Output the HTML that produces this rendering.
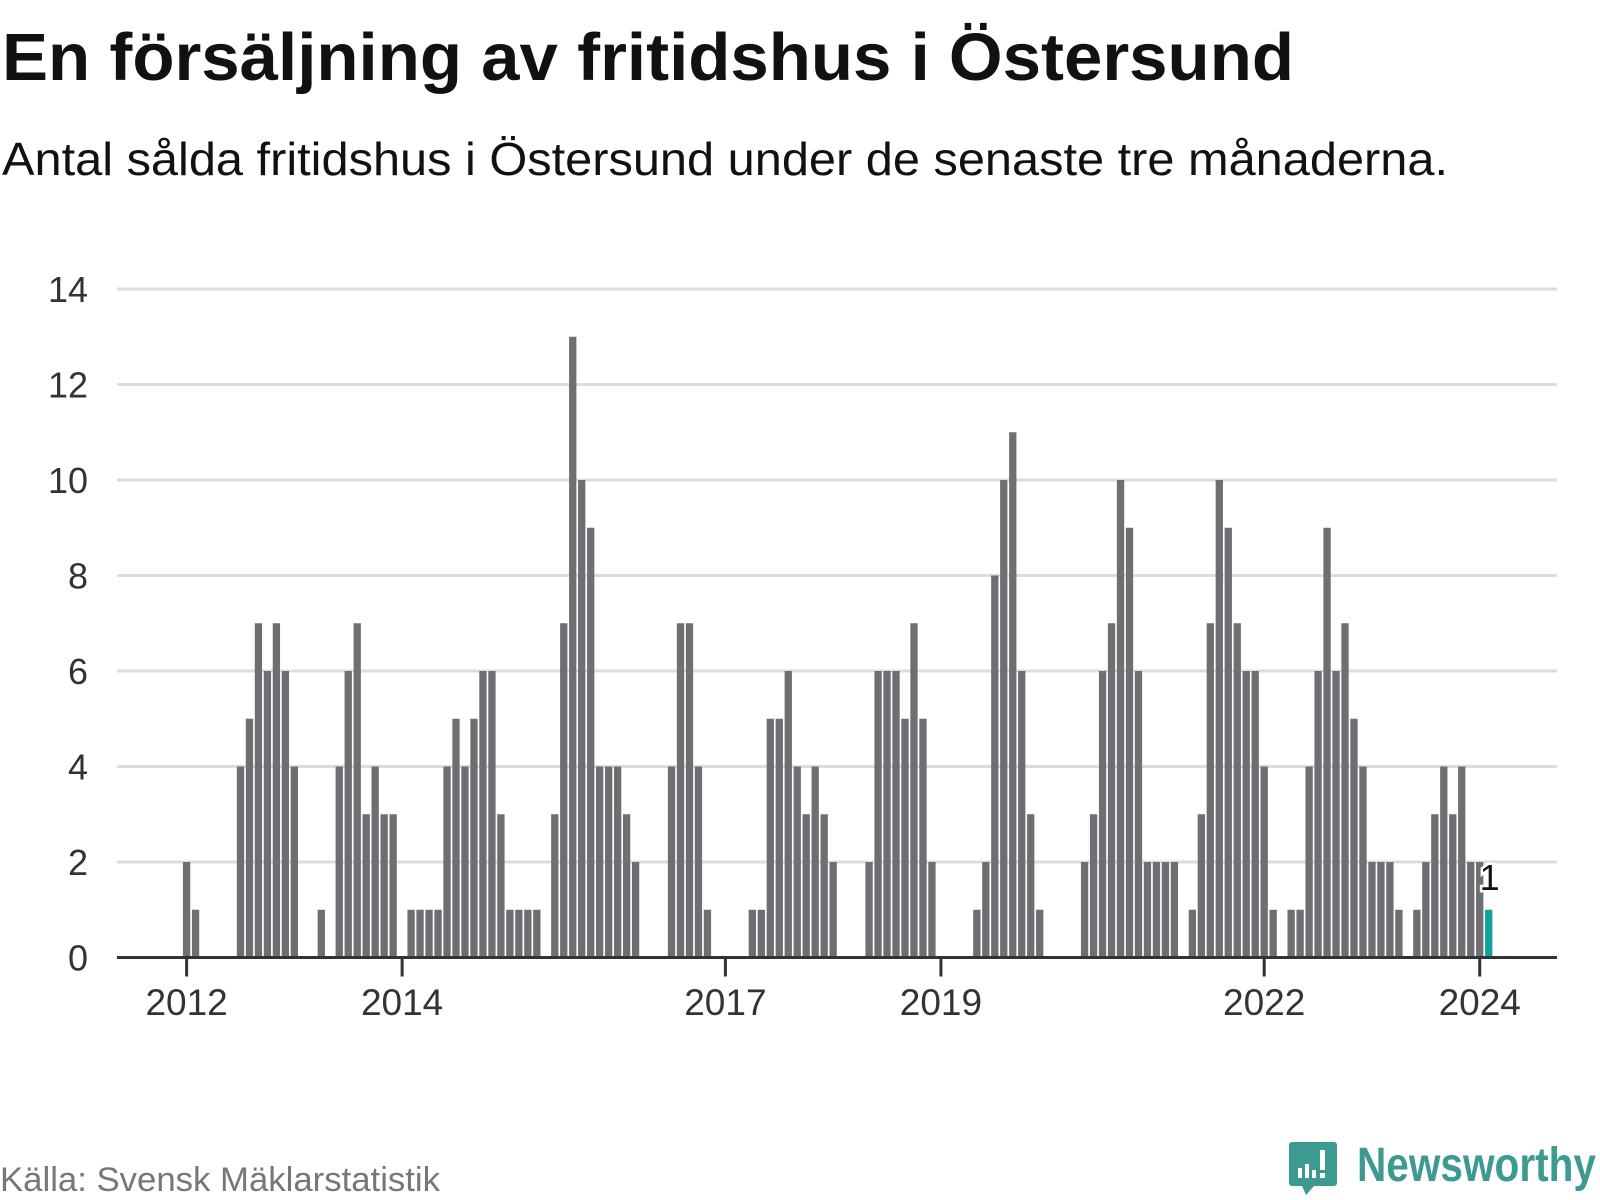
<!DOCTYPE html>
<html><head><meta charset="utf-8"><style>
html,body{margin:0;padding:0;background:#fff;}
svg{display:block;font-family:"Liberation Sans",sans-serif;}
</style></head><body>
<svg id="chart" width="1600" height="1200" viewBox="0 0 1600 1200" xmlns="http://www.w3.org/2000/svg">
<text x="2" y="80" font-size="67" font-weight="bold" fill="#111" textLength="1292" lengthAdjust="spacingAndGlyphs">En försäljning av fritidshus i Östersund</text>
<text x="2" y="175" font-size="46" fill="#111" textLength="1446" lengthAdjust="spacingAndGlyphs">Antal sålda fritidshus i Östersund under de senaste tre månaderna.</text>
<g id="grid"></g>
<g id="yticks"></g>
<g id="bars"></g>
<g id="xaxis"></g>
<g id="labels"></g>
<text x="0" y="1191" font-size="34" fill="#777" textLength="440" lengthAdjust="spacingAndGlyphs">Källa: Svensk Mäklarstatistik</text>
<g>
  <path d="M1292 1142 h42 a3 3 0 0 1 3 3 v38 a3 3 0 0 1 -3 3 h-20 l-8 9 l-4 -9 h-10 a3 3 0 0 1 -3 -3 v-38 a3 3 0 0 1 3 -3z" fill="#3d9a90"/>
  <rect x="1298" y="1168" width="4" height="10" fill="#fff"/>
  <rect x="1305" y="1164" width="4" height="14" fill="#fff"/>
  <rect x="1312" y="1170" width="4" height="8" fill="#fff"/>
  <rect x="1320" y="1150" width="5" height="20" fill="#fff"/>
  <rect x="1320" y="1173" width="5" height="5" fill="#fff"/>
  <text x="1357" y="1181" font-size="48" font-weight="bold" fill="#3d9a90" textLength="239" lengthAdjust="spacingAndGlyphs">Newsworthy</text>
</g>
</svg>
<script>
const yTicks = [0, 2, 4, 6, 8, 10, 12, 14];
const xTickLabels = ["2012", "2014", "2017", "2019", "2022", "2024"];
const xTickMonths = [0, 24, 60, 84, 120, 144];
const startYear = 2012;
const values = [
 2,1,0,0,0,0,4,5,7,6,7,6,
 4,0,0,1,0,4,6,7,3,4,3,3,
 0,1,1,1,1,4,5,4,5,6,6,3,
 1,1,1,1,0,3,7,13,10,9,4,4,
 4,3,2,0,0,0,4,7,7,4,1,0,
 0,0,0,1,1,5,5,6,4,3,4,3,
 2,0,0,0,2,6,6,6,5,7,5,2,
 0,0,0,0,1,2,8,10,11,6,3,1,
 0,0,0,0,2,3,6,7,10,9,6,2,
 2,2,2,0,1,3,7,10,9,7,6,6,
 4,1,0,1,1,4,6,9,6,7,5,4,
 2,2,2,1,0,1,2,3,4,3,4,2,
 2,1
];
const highlightLabel = "1";

const NS = "http://www.w3.org/2000/svg";
const X0 = 186.6, STEP = 8.98, LEFT = 117, RIGHT = 1557;
const Y0 = 957.5, PER = 47.75;
function xPos(i){ return X0 + i*STEP; }
function yPos(v){ return Y0 - v*PER; }
function mk(tag, attrs, parent){
  const e = document.createElementNS(NS, tag);
  for (const k in attrs) e.setAttribute(k, attrs[k]);
  parent.appendChild(e);
  return e;
}
const grid = document.getElementById('grid');
const yt = document.getElementById('yticks');
yTicks.forEach(t => {
  if (t > 0) {
    const l = mk('line', {x1:LEFT, x2:RIGHT, y1:yPos(t), y2:yPos(t), stroke:'#dcdcdc', 'stroke-width':3}, grid);
    
    
  }
  const tx = mk('text', {x:88, y:yPos(t)+13, 'font-size':36, fill:'#333', 'text-anchor':'end'}, yt);
  
  
  tx.textContent = t;
});
const bars = document.getElementById('bars');
const last = values.length - 1;
values.forEach((v, i) => {
  if (v <= 0) return;
  const r = mk('rect', {x:xPos(i)-3.65, y:yPos(v), width:7.3, height:v*PER, fill: i===last ? '#0fa39a' : '#6e6e73'}, bars);
  
  
});
const xa = document.getElementById('xaxis');
const ax = mk('line', {x1:LEFT, x2:RIGHT, y1:Y0, y2:Y0, stroke:'#333', 'stroke-width':3}, xa);


xTickLabels.forEach((lab, k) => {
  const x = xPos(xTickMonths[k]);
  const tk = mk('line', {x1:x, x2:x, y1:Y0, y2:Y0+19, stroke:'#333', 'stroke-width':3}, xa);
  
  
  const tx = mk('text', {x:x, y:1015, 'font-size':37, fill:'#333', 'text-anchor':'middle'}, xa);
  
  
  tx.textContent = lab;
});
const lbls = document.getElementById('labels');
const vl = mk('text', {x:xPos(last)+1, y:yPos(values[last])-20, 'font-size':36, fill:'#111', 'text-anchor':'middle', stroke:'#fff', 'stroke-width':5, 'paint-order':'stroke'}, lbls);


vl.textContent = highlightLabel;
</script>
</body></html>
